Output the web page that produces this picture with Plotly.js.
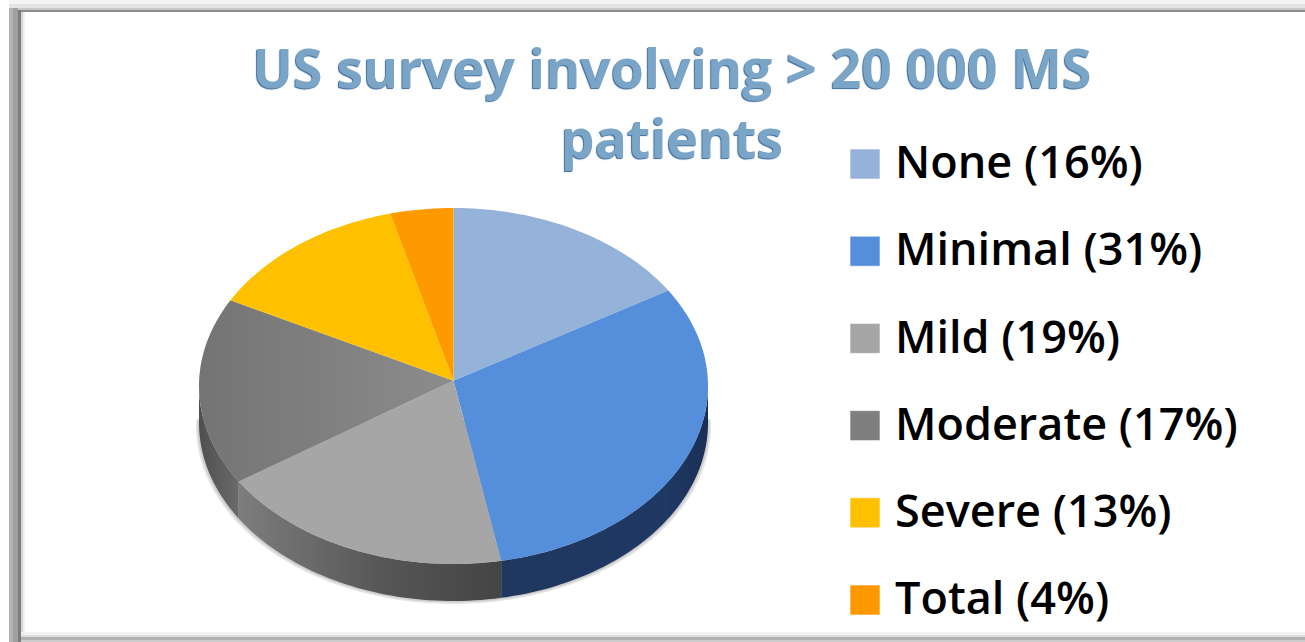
<!DOCTYPE html>
<html><head><meta charset="utf-8">
<script src="https://cdn.plot.ly/plotly-3.0.1.min.js"></script>
<style>html,body{margin:0;padding:0;background:#fff;overflow:hidden}#c{width:1305px;height:642px}</style>
</head><body><div id="c"></div>
<script>
const categories = ['None','Minimal','Mild','Moderate','Severe','Total'];
const percents = [16,31,19,17,13,4];
const topColors = ['#95b3d9','#558fdb','#a6a6a6','#7f7f7f','#ffc000','#ff9900'];
const sideColors = ['#6f87a8','#1f3864','#4a4a4a','#666666','#b88a00','#b86e00'];
const titleText = 'US survey involving > 20 000 MS<br>patients';

const W=1305,H=642, L=199,R=708,T=208,B=564, DEPTH=37;
const ry=(B-T)/2, depth=DEPTH/ry, apexY=0.03;
const total=percents.reduce((a,b)=>a+b,0);
const pt=(deg)=>{const r=deg*Math.PI/180;return [Math.sin(r),Math.cos(r)];};
function arc(a,b){const xs=[],ys=[];const n=Math.max(2,Math.ceil(Math.abs(b-a)/1.5));
  for(let i=0;i<=n;i++){const p=pt(a+(b-a)*i/n);xs.push(p[0]);ys.push(p[1]);}return [xs,ys];}

const sides=[],tops=[];let cum=0;
[3,1.5].forEach(px=>{
  const [ax,ay]=arc(88,272);
  sides.push({type:'scatter',mode:'none',fill:'toself',hoverinfo:'skip',showlegend:false,
    x:ax.map(v=>v*(1+px/254)),
    y:ay.map(v=>v-(DEPTH+px)/ry),
    fillcolor:'rgba(0,0,0,0.10)'});
});
categories.forEach((c,i)=>{
  const a=cum/total*360,b=(cum+percents[i])/total*360;cum+=percents[i];
  const label=c+' ('+percents[i]+'%)';
  const s=Math.max(a,90),e=Math.min(b,270);
  if(e>s){
    const [ax,ay]=arc(s,e);
    const t={type:'scatter',mode:'none',fill:'toself',hoverinfo:'skip',showlegend:false,
      x:ax.concat(ax.slice().reverse()),
      y:ay.concat(ay.slice().reverse().map(v=>v-depth)),
      fillcolor:sideColors[i]};
    if(c==='Mild') t.fillgradient={type:'horizontal',colorscale:[[0,'#7d7d7d'],[0.55,'#565656'],[1,'#444444']]};
    if(c==='Moderate') t.fillgradient={type:'horizontal',colorscale:[[0,'#4f4f4f'],[1,'#6a6a6a']]};
    if(c==='Minimal') t.fillgradient={type:'horizontal',colorscale:[[0,'#20385f'],[0.8,'#1f3864'],[1,'#1a2f55']]};
    sides.push(t);
  }
  const [tx,ty]=arc(a,b);
  const w={type:'scatter',mode:'none',fill:'toself',name:label,hoverinfo:'name',showlegend:false,
    x:[0].concat(tx,[0]),y:[apexY].concat(ty,[apexY]),fillcolor:topColors[i]};
  if(c==='Moderate') w.fillgradient={type:'horizontal',colorscale:[[0,'#747474'],[1,'#8c8c8c']]};
  tops.push(w);
});

const legendMarkers={type:'scatter',mode:'markers',xaxis:'x2',yaxis:'y2',showlegend:false,hoverinfo:'skip',
  x:categories.map(()=>0),y:categories,cliponaxis:false,
  marker:{symbol:'square',size:30,color:topColors,line:{width:1,color:'rgba(255,255,255,0.6)'}}};
const legendTexts={type:'scatter',mode:'text',xaxis:'x3',yaxis:'y3',showlegend:false,hoverinfo:'skip',
  x:categories.map(()=>0),y:categories,cliponaxis:false,
  text:categories.map((c,i)=>c+' ('+percents[i]+'%)'),
  textposition:'middle right',
  textfont:{family:'"Open Sans", sans-serif',size:45,color:'#000',weight:600}};

const rect=(x0,y0,x1,y1,fill)=>({type:'rect',xref:'paper',yref:'paper',layer:'below',
  x0:x0/W,x1:x1/W,y0:1-y0/H,y1:1-y1/H,fillcolor:fill,line:{width:0}});
const shapes=[
  rect(9,0,W,4,'#f4f4f4'),rect(9,4,W,8,'#e4e4e4'),rect(9,8,W,10,'#c8c8c8'),rect(18,10,W,12,'#8c8c8c'),
  rect(9,8,13,H,'#b4b4b4'),rect(13,8,18,H,'#a0a0a0'),rect(18,10,21,H,'#7c7c7c'),
  rect(21,12,23,H,'#d6d6d6'),rect(23,12,25,H,'#f0f0f0'),
  rect(21,632,W,635,'#f2f2f2'),rect(21,635,W,637,'#dddddd'),rect(21,637,W,640,'#b0b0b0'),rect(21,640,W,H,'#cccccc')
];

const layout={width:W,height:H,margin:{l:0,r:0,t:0,b:0},paper_bgcolor:'#fff',plot_bgcolor:'rgba(0,0,0,0)',
  showlegend:false,shapes,
  title:{text:titleText,x:672/W,xanchor:'center',y:1-88/H,yanchor:'top',
    font:{family:'"Open Sans", sans-serif',size:53.5,weight:700,color:'#7aa5c6',shadow:'-1px 1px 1px #3d6a9c'}},
  xaxis:{domain:[(L-4)/W,(R+4)/W],range:[-1-4/254.5,1+4/254.5],visible:false,fixedrange:true},
  yaxis:{domain:[1-(B+DEPTH+8)/H,1-T/H],range:[-1-(DEPTH+8)/ry,1],visible:false,fixedrange:true},
  xaxis2:{domain:[865/W,1],range:[0,1],visible:false,fixedrange:true,anchor:'y2'},
  yaxis2:{domain:[1-600/H,1-164/H],type:'category',categoryorder:'array',categoryarray:categories,range:[5,0],visible:false,fixedrange:true,anchor:'x2'},
  xaxis3:{domain:[895/W,1],range:[0,1],visible:false,fixedrange:true,anchor:'y3'},
  yaxis3:{domain:[1-603/H,1-167/H],type:'category',categoryorder:'array',categoryarray:categories,range:[5,0],visible:false,fixedrange:true,anchor:'x3'}
};
Plotly.newPlot('c',sides.concat(tops,[legendMarkers,legendTexts]),layout,{displayModeBar:false});
</script></body></html>
